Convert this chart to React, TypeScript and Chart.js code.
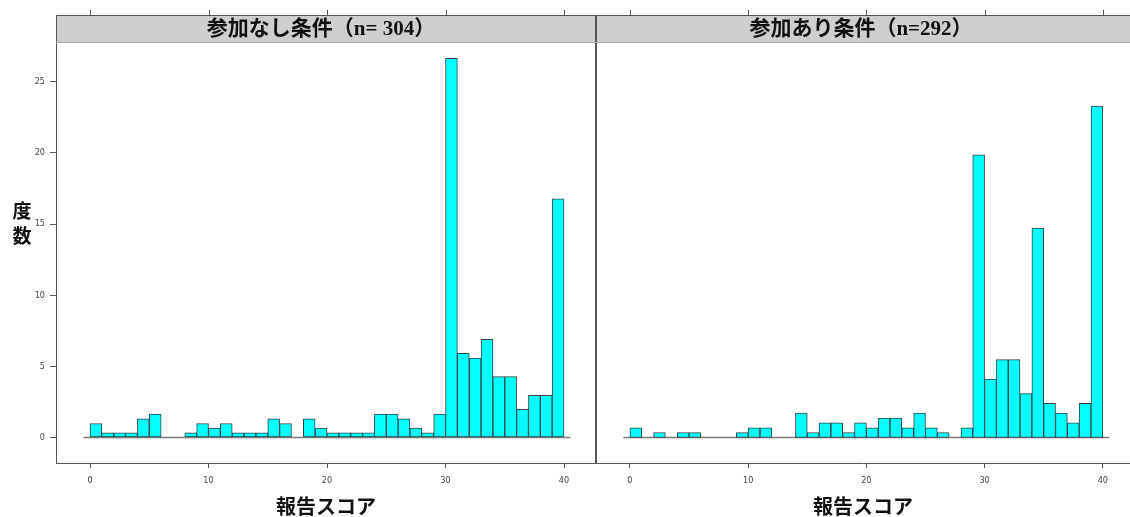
import React, { useEffect, useRef } from 'react';
import { Chart, registerables } from 'chart.js';

Chart.register(...registerables);

// ---- data ----
const binStarts = [0, 1, 2, 3, 4, 5, 6, 7, 8, 9, 10, 11, 12, 13, 14, 15, 16, 17, 18, 19, 20, 21, 22, 23, 24, 25, 26, 27, 28, 29, 30, 31, 32, 33, 34, 35, 36, 37, 38, 39];
const countsWithout = [3, 1, 1, 1, 4, 5, 0, 0, 1, 3, 2, 3, 1, 1, 1, 4, 3, 0, 4, 2, 1, 1, 1, 1, 5, 5, 4, 2, 1, 5, 81, 18, 17, 21, 13, 13, 6, 9, 9, 51];
const countsWith = [2, 0, 1, 0, 1, 1, 0, 0, 0, 1, 2, 2, 0, 0, 5, 1, 3, 3, 1, 3, 2, 4, 4, 2, 5, 2, 1, 0, 2, 58, 12, 16, 16, 9, 43, 7, 5, 3, 7, 68];
const nWithout = 304;
const nWith = 292;
const panelTitles = ['参加なし条件（n= 304）', '参加あり条件（n=292）'];
const xTicks = [0, 10, 20, 30, 40];
const yTicks = [0, 5, 10, 15, 20, 25];
const xTitle = '報告スコア';
const yTitleChars = ['度', '数'];

const STRIP_TOP = 15;
const PANEL_W = 540;
const TICK_FONT = "'Liberation Sans Narrow', 'DejaVu Sans Condensed', 'Liberation Sans', sans-serif";

function makeConfig(counts: number[], n: number, title: string, isLeft: boolean, xMin: number, xMax: number): any {
  const barData = binStarts.map((b, i) => ({ x: b + 0.5, y: counts[i] ? (counts[i] / n) * 100 : null }));
  const framePlugin = {
    id: 'frame' + (isLeft ? 'L' : 'R'),
    afterDraw(chart: any) {
      const { ctx, chartArea: ca } = chart;
      const xs = chart.scales.x;
      ctx.save();
      // strip
      ctx.fillStyle = '#d0cecf';
      ctx.fillRect(ca.left, STRIP_TOP, PANEL_W, ca.top - STRIP_TOP);
      ctx.font = "bold 21px 'Liberation Serif', 'Noto Sans CJK JP', serif";
      ctx.fillStyle = '#111';
      ctx.textAlign = 'center';
      ctx.textBaseline = 'middle';
      ctx.fillText(title, ca.left + PANEL_W / 2 - 5, (STRIP_TOP + ca.top) / 2 + 1);
      // frame
      ctx.strokeStyle = '#555';
      ctx.lineWidth = 1;
      ctx.beginPath();
      ctx.moveTo(ca.left + 0.5, ca.bottom);
      ctx.lineTo(ca.left + 0.5, STRIP_TOP + 0.5);
      ctx.lineTo(ca.left + PANEL_W, STRIP_TOP + 0.5);
      ctx.moveTo(ca.left + PANEL_W - 0.5, STRIP_TOP);
      ctx.lineTo(ca.left + PANEL_W - 0.5, ca.bottom);
      ctx.stroke();
      ctx.strokeStyle = '#aaa';
      ctx.beginPath();
      ctx.moveTo(ca.left, ca.top + 0.5);
      ctx.lineTo(ca.left + PANEL_W, ca.top + 0.5);
      ctx.stroke();
      // top ticks
      ctx.strokeStyle = '#555';
      ctx.beginPath();
      xTicks.forEach((v) => {
        const px = Math.round(xs.getPixelForValue(v)) + 0.5;
        ctx.moveTo(px, STRIP_TOP);
        ctx.lineTo(px, STRIP_TOP - 5);
      });
      ctx.stroke();
      if (isLeft) {
        ctx.font = "bold 19px 'Noto Sans CJK JP', sans-serif";
        ctx.fillStyle = '#111';
        ctx.fillText(yTitleChars[0], 22, 211);
        ctx.fillText(yTitleChars[1], 22, 236);
      }
      ctx.restore();
    },
  };
  return {
    type: 'bar',
    data: {
      datasets: [
        {
          type: 'line',
          data: [{ x: -0.55, y: 0 }, { x: 40.55, y: 0 }],
          borderColor: '#7a7a7a',
          borderWidth: 1.5,
          pointRadius: 0,
          order: 2,
        },
        {
          type: 'bar',
          data: barData,
          backgroundColor: '#00ffff',
          borderColor: '#334444',
          borderWidth: 1,
          barPercentage: 1,
          categoryPercentage: 1,
          borderSkipped: false,
          order: 1,
        },
      ],
    },
    options: {
      responsive: false,
      animation: false,
      events: [],
      layout: { padding: { top: 42, bottom: 0, left: isLeft ? 0 : 6, right: isLeft ? 4 : 0 } },
      plugins: { legend: { display: false }, title: { display: false }, tooltip: { enabled: false } },
      scales: {
        x: {
          type: 'linear',
          min: xMin,
          max: xMax,
          offset: false,
          afterBuildTicks: (s: any) => {
            s.ticks = xTicks.map((v) => ({ value: v }));
          },
          afterFit: (s: any) => {
            s.height = 54;
          },
          grid: { offset: false, drawOnChartArea: false, drawTicks: true, tickLength: 5, color: '#555', lineWidth: 1 },
          border: { display: true, color: '#555', width: 1 },
          ticks: { font: { size: 9, family: TICK_FONT }, color: '#444', padding: 7, maxRotation: 0, autoSkip: false },
          title: {
            display: true,
            text: xTitle,
            color: '#111',
            font: { size: 20, weight: 'bold', family: "'Noto Sans CJK JP', sans-serif", lineHeight: 1 },
            padding: { top: 0, bottom: 1 },
          },
        },
        y: {
          type: 'linear',
          display: isLeft,
          min: -1.79,
          max: 27.8,
          afterBuildTicks: (s: any) => {
            s.ticks = yTicks.map((v) => ({ value: v }));
          },
          afterFit: (s: any) => {
            s.width = isLeft ? 56 : 0;
          },
          grid: { drawOnChartArea: false, drawTicks: true, tickLength: 6, color: '#555', lineWidth: 1 },
          border: { display: true, color: '#555', width: 1 },
          ticks: { font: { size: 9, family: TICK_FONT }, color: '#444', padding: 5 },
        },
      },
    },
    plugins: [framePlugin],
  };
}

function Panel(props: { counts: number[]; n: number; title: string; isLeft: boolean; xMin: number; xMax: number; left: number; width: number }) {
  const ref = useRef<HTMLCanvasElement | null>(null);
  useEffect(() => {
    if (!ref.current) return;
    const chart = new Chart(ref.current, makeConfig(props.counts, props.n, props.title, props.isLeft, props.xMin, props.xMax));
    return () => chart.destroy();
  }, []);
  return (
    <canvas
      ref={ref}
      width={props.width}
      height={517}
      style={{ position: 'absolute', left: props.left, top: 0, width: props.width, height: 517 }}
    />
  );
}

export default function App() {
  return (
    <div style={{ position: 'absolute', left: 0, top: 0, width: 1130, height: 517, background: '#fff', overflow: 'hidden' }}>
      <Panel counts={countsWithout} n={nWithout} title={panelTitles[0]} isLeft={true} xMin={-2.87} xMax={42.7} left={0} width={600} />
      <Panel counts={countsWith} n={nWith} title={panelTitles[1]} isLeft={false} xMin={-2.87} xMax={42.3} left={590} width={540} />
    </div>
  );
}
